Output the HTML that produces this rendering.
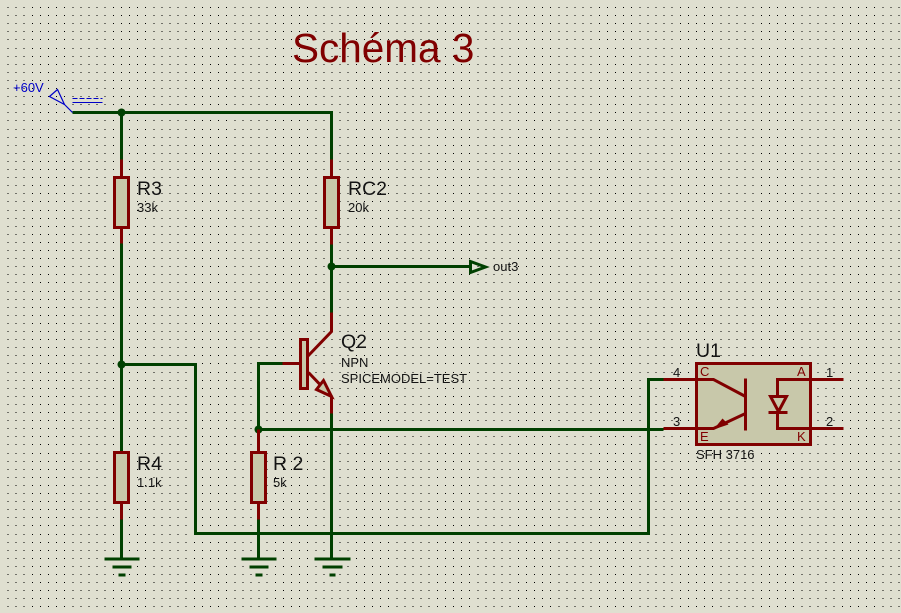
<!DOCTYPE html>
<html><head><meta charset="utf-8"><style>
html,body{margin:0;padding:0;background:#dfdfd0}
svg{display:block}
text{font-family:"Liberation Sans",Arial,sans-serif;fill:#141414}
.b{font-size:19.500px}.s{font-size:13px}
.m{font-size:13px;fill:#800000}
.g{stroke:#004000;stroke-width:3;fill:none}
.r{stroke:#800000;stroke-width:3;fill:none}
.body{stroke:#800000;stroke-width:3;fill:#c8c8aa}
</style></head><body>
<svg width="901" height="613" viewBox="0 0 901 613" xmlns="http://www.w3.org/2000/svg">
<rect width="901" height="613" fill="#dfdfd0"/>
<path shape-rendering="crispEdges" fill="none" stroke="#000" stroke-width="1" stroke-dasharray="1 7.100" d="M7.500 7.500H901M7.500 15.500H901M7.500 23.500H901M7.500 31.500H901M7.500 39.500H901M7.500 48.500H901M7.500 56.500H901M7.500 64.500H901M7.500 72.500H901M7.500 80.500H901M7.500 88.500H901M7.500 96.500H901M7.500 104.500H901M7.500 112.500H901M7.500 120.500H901M7.500 129.500H901M7.500 137.500H901M7.500 145.500H901M7.500 153.500H901M7.500 161.500H901M7.500 169.500H901M7.500 177.500H901M7.500 185.500H901M7.500 193.500H901M7.500 201.500H901M7.500 210.500H901M7.500 218.500H901M7.500 226.500H901M7.500 234.500H901M7.500 242.500H901M7.500 250.500H901M7.500 258.500H901M7.500 266.500H901M7.500 274.500H901M7.500 282.500H901M7.500 291.500H901M7.500 299.500H901M7.500 307.500H901M7.500 315.500H901M7.500 323.500H901M7.500 331.500H901M7.500 339.500H901M7.500 347.500H901M7.500 355.500H901M7.500 363.500H901M7.500 372.500H901M7.500 380.500H901M7.500 388.500H901M7.500 396.500H901M7.500 404.500H901M7.500 412.500H901M7.500 420.500H901M7.500 428.500H901M7.500 436.500H901M7.500 444.500H901M7.500 453.500H901M7.500 461.500H901M7.500 469.500H901M7.500 477.500H901M7.500 485.500H901M7.500 493.500H901M7.500 501.500H901M7.500 509.500H901M7.500 517.500H901M7.500 525.500H901M7.500 534.500H901M7.500 542.500H901M7.500 550.500H901M7.500 558.500H901M7.500 566.500H901M7.500 574.500H901M7.500 582.500H901M7.500 590.500H901M7.500 598.500H901M7.500 606.500H901"/>

<text x="292" y="62" font-size="40.500" style="fill:#800000">Schéma 3</text>

<g transform="translate(.5 .5)">
<!-- wires -->
<path class="g" d="M72 112H331V159M121 112V159M121 243V451M331 244V312M331 266H470M121 364H195V533H648V379H663M258 429V363H282M258 429H663M331 413V558M121 519V558M258 519V558"/>
<circle cx="121" cy="112" r="4" fill="#004000"/><circle cx="331" cy="266" r="4" fill="#004000"/>
<circle cx="121" cy="364" r="4" fill="#004000"/><circle cx="258" cy="429" r="4" fill="#004000"/>

<!-- +60V -->
<path d="M49 96L57 89L64 104ZM64 104L72 112" fill="none" stroke="#0000c8" stroke-width="1.200"/>
<path d="M72 98H102" stroke="#0000c8" stroke-width="1" stroke-dasharray="5 2"/>
<path d="M72 102H102" stroke="#0000c8" stroke-width="1"/>

<!-- R3 -->
<path class="r" d="M121 159V176M121 228V243"/><rect class="body" x="114" y="177" width="14" height="50"/>
<!-- RC2 -->
<path class="r" d="M331 159V176M331 228V244"/><rect class="body" x="324" y="177" width="14" height="50"/>
<!-- R4 -->
<path class="r" d="M121 451V519"/><rect class="body" x="114" y="452" width="14" height="50"/>
<!-- R2 -->
<path class="r" d="M258 429V519"/><rect class="body" x="251" y="452" width="14" height="50"/>

<!-- grounds -->
<g fill="#004000">
<rect x="104" y="557" width="35" height="3"/><rect x="112" y="565" width="19" height="3"/><rect x="118" y="573" width="7" height="3"/>
<rect x="241" y="557" width="35" height="3"/><rect x="249" y="565" width="19" height="3"/><rect x="255" y="573" width="7" height="3"/>
<rect x="314" y="557" width="36" height="3"/><rect x="322" y="565" width="20" height="3"/><rect x="329" y="573" width="6" height="3"/>
</g>

<!-- out3 -->
<path d="M470 261V272L485 266.500Z" fill="none" stroke="#004000" stroke-width="3"/>

<!-- Q2 -->
<path class="r" d="M282 363H299M331 312V331L307 356M308 372L331 396V413"/>
<rect class="body" x="300" y="339" width="7" height="49"/>
<path d="M323 380L316 389L331 396Z" fill="#c8c8aa" stroke="#800000" stroke-width="3"/>

<!-- U1 -->
<rect class="body" x="696" y="363" width="114" height="81"/>
<path class="r" d="M663 379H713L745 396M745 378V430M745 413L713 428H663M843 379H777V396M768 412H787M777 412V428H843"/>
<path d="M770 396H786L778 411Z" fill="none" stroke="#800000" stroke-width="3"/>
<path d="M713 429L722 418L728 424Z" fill="#800000"/>
</g>

<text x="13" y="92" font-size="13" style="fill:#0000c8">+60V</text>
<text class="b" x="137" y="195">R3</text><text class="s" x="137" y="212">33k</text>
<text class="b" x="348" y="195">RC2</text><text class="s" x="348" y="212">20k</text>
<text class="b" x="137" y="470">R4</text><text class="s" x="137" y="487">1.1k</text>
<text class="b" x="273" y="470">R 2</text><text class="s" x="273" y="487">5k</text>
<text class="s" x="493" y="271">out3</text>
<text class="b" x="341" y="348">Q2</text><text class="s" x="341" y="367">NPN</text><text class="s" x="341" y="383">SPICEMODEL=TEST</text>
<text class="b" x="696" y="357">U1</text>
<text class="s" x="673" y="377">4</text><text class="s" x="673" y="426">3</text>
<text class="s" x="826" y="377">1</text><text class="s" x="826" y="426">2</text>
<text class="m" x="700" y="376">C</text><text class="m" x="700" y="441">E</text>
<text class="m" x="797" y="376">A</text><text class="m" x="797" y="441">K</text>
<text class="s" x="696" y="459">SFH 3716</text>
</svg>
</body></html>
